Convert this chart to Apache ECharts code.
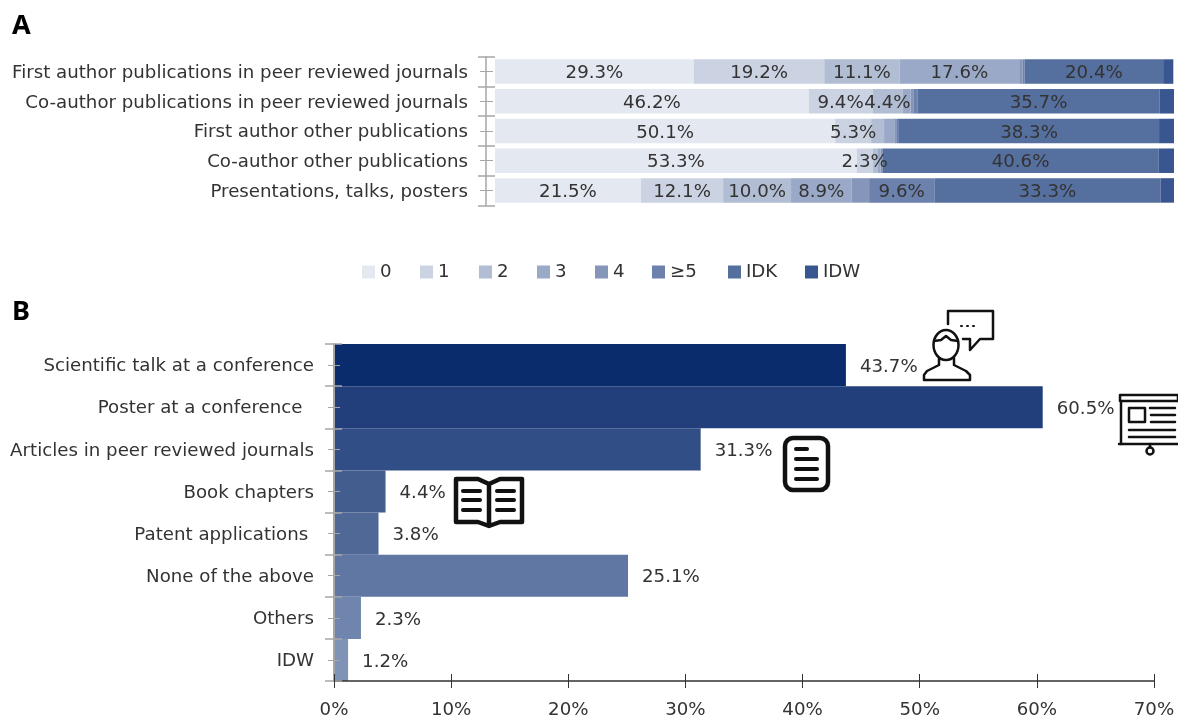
<!DOCTYPE html>
<html><head><meta charset="utf-8">
<style>html,body{margin:0;padding:0;background:#fff}#c{width:1178px;height:719px}</style>
<script src="https://cdn.jsdelivr.net/npm/echarts@6/dist/echarts.min.js"></script></head>
<body><div id="c"></div>
<script>
const rowsA=["First author publications in peer reviewed journals","Co-author publications in peer reviewed journals","First author other publications","Co-author other publications","Presentations, talks, posters"];
const seriesNames=["0","1","2","3","4","≥5","IDK","IDW"];
const s0=[29.3,46.2,50.1,53.3,21.5];
const s1=[19.2,9.4,5.3,2.3,12.1];
const s2=[11.1,4.4,1.9,0.8,10.0];
const s3=[17.6,1.2,1.5,0.4,8.9];
const s4=[0.5,0.4,0.4,0.2,2.6];
const s5=[0.3,0.6,0.3,0.1,9.6];
const sIDK=[20.4,35.7,38.3,40.6,33.3];
const sIDW=[1.5,2.1,2.2,2.3,2.0];
const colorsA=["#E4E8F0","#CBD3E2","#B1BDD3","#9AA9C7","#8596BA","#6C81AB","#556F9E","#3A5690"];
const legendLeft=[362,420,479,537,595,652,728,805];
const catsB=["Scientific talk at a conference","Poster at a conference  ","Articles in peer reviewed journals","Book chapters","Patent applications ","None of the above","Others","IDW"];
const valsB=[43.7,60.5,31.3,4.4,3.8,25.1,2.3,1.2];
const colorsB=["#0A2C6C","#223F7C","#324E86","#435D8F","#4F6896","#5F77A2","#6F85AD","#7F93B7"];

const FONT="DejaVu Sans", FS=18.2, TXT="#333";
const valuesA=[s0,s1,s2,s3,s4,s5,sIDK,sIDW];
const noLabel=new Set(["4","IDW"]);
const seriesA=seriesNames.map((n,i)=>({
  name:n,type:"bar",stack:"a",xAxisIndex:0,yAxisIndex:0,barWidth:24.5,
  itemStyle:{color:colorsA[i]},
  data:valuesA[i].map(v=>({value:v,label:{show:!noLabel.has(n)&&v>=2.3}})),
  label:{position:"inside",offset:[0,2],color:TXT,fontFamily:FONT,fontSize:FS,formatter:p=>p.value.toFixed(1)+"%"},
  animation:false
}));
const seriesB={type:"bar",xAxisIndex:1,yAxisIndex:3,barWidth:"100%",animation:false,
  data:valsB.map((v,i)=>({value:v,itemStyle:{color:colorsB[i]}})),
  label:{show:true,position:"right",distance:14,offset:[0,2],color:TXT,fontFamily:FONT,fontSize:FS,formatter:p=>p.value.toFixed(1)+"%"}};

const catAxis=(grid,data,o)=>Object.assign({type:"category",gridIndex:grid,data,inverse:true,position:"left",z:6,
  axisLine:{show:false},axisTick:{show:false},axisLabel:{show:false},splitLine:{show:false}},o);
const GR="#A6A6A6";
const ink="#111";
const catLabel=(margin)=>({show:true,margin,formatter:v=>"{t|"+v+"}",
  rich:{t:{color:TXT,fontFamily:FONT,fontSize:FS,padding:[3,0,0,0]}}});
const stroke=w=>({fill:null,stroke:ink,lineWidth:w,lineJoin:"round",lineCap:"round"});
const pl=(points,w)=>({type:"polyline",silent:true,shape:{points},style:stroke(w)});
const ln=(x1,y1,x2,y2,w)=>({type:"line",silent:true,shape:{x1,y1,x2,y2},style:stroke(w)});
const box=(x,y,width,height,r,w)=>({type:"rect",silent:true,shape:{x,y,width,height,r},style:stroke(w)});
const ell=(cx,cy,rx,ry,w)=>({type:"ellipse",silent:true,shape:{cx,cy,rx,ry},style:stroke(w)});
const ring=(cx,cy,r,w)=>({type:"circle",silent:true,shape:{cx,cy,r},style:stroke(w)});

const option={
  backgroundColor:"#fff",
  title:[
    {text:"A",left:12,top:13,padding:0,textStyle:{fontFamily:"Noto Sans",fontSize:27,fontWeight:"bold",color:"#000"}},
    {text:"B",left:12,top:299,padding:0,textStyle:{fontFamily:"Noto Sans",fontSize:27,fontWeight:"bold",color:"#000"}}
  ],
  legend:seriesNames.map((n,i)=>({data:[n],left:legendLeft[i],top:263,padding:0,itemWidth:13,itemHeight:13,itemGap:0,selectedMode:false,
    textStyle:{fontFamily:FONT,fontSize:FS,color:TXT},icon:"rect"})),
  grid:[
    {left:495,right:4,top:56.7,height:148.6},
    {left:334,width:820,top:344,height:338.5}
  ],
  xAxis:[
    {type:"value",gridIndex:0,min:0,max:100,show:false},
    {type:"value",gridIndex:1,min:0,max:70,interval:10,position:"bottom",z:6,
     axisLine:{show:true,lineStyle:{color:"#333",width:1.5}},axisTick:{show:true,inside:true,length:7,lineStyle:{color:"#333"}},
     axisLabel:{show:true,margin:20,color:TXT,fontFamily:FONT,fontSize:FS,formatter:v=>v+"%"},splitLine:{show:false}},
    {type:"value",gridIndex:1,min:0,max:70,interval:10,position:"bottom",z:6,
     axisLine:{show:false},axisTick:{show:true,length:7,lineStyle:{color:"#333"}},axisLabel:{show:false},splitLine:{show:false}}
  ],
  yAxis:[
    catAxis(0,rowsA,{axisTick:{show:true,length:17,lineStyle:{color:GR,width:1.5}},axisLabel:catLabel(27)}),
    catAxis(0,rowsA,{offset:9,axisLine:{show:true,lineStyle:{color:GR,width:1.5}}}),
    catAxis(0,rowsA,{offset:2,axisTick:{show:true,length:13,alignWithLabel:true,lineStyle:{color:GR}}}),
    catAxis(1,catsB,{offset:-8,axisTick:{show:true,length:17,lineStyle:{color:GR,width:1.5}},axisLabel:catLabel(28)}),
    catAxis(1,catsB,{offset:0,axisLine:{show:true,lineStyle:{color:GR,width:2}}}),
    catAxis(1,catsB,{offset:-6,axisTick:{show:true,length:12,alignWithLabel:true,lineStyle:{color:GR}}})
  ],
  series:[...seriesA,seriesB],
  graphic:[
    // speaker icon
    pl([[948,324],[948,311],[993,311],[993,339],[980,339],[970,350],[970,339],[963,339]],2.5),
    ell(946,345,12.5,15,2.5),
    pl([[934,341],[941,340],[946,336],[951,340],[958,341]],2.5),
    pl([[939,358],[939,365],[927,371],[924,375],[924,380],[970,380],[970,375],[966,371],[954,365],[954,358]],2.5),
    ln(961,326,962,326,2),ln(967,326,968,326,2),ln(973,326,974,326,2),
    // board icon
    box(1120,395,58,6,0,2.5),
    pl([[1121,401],[1121,444]],2.5),
    ln(1119,444,1178,444,2.5),ln(1150,444,1150,447,2.5),ring(1150,451,3.5,2.5),
    box(1129,408,16,14,0,2.5),
    ln(1150,408,1175,408,2.5),ln(1151,415,1175,415,2.5),ln(1151,422,1175,422,2.5),
    ln(1129,430,1175,430,2.5),ln(1129,437,1175,437,2.5),
    // document icon
    box(785,438,43,52,8,4.5),
    ln(796,449,807,449,4),ln(796,459,817,459,4),ln(796,469,817,469,4),ln(796,479,817,479,4),
    // book icon
    pl([[489,484],[478,479],[456,479],[456,522],[478,522],[489,526],[500,522],[522,522],[522,479],[500,479],[489,484],[489,526]],4.5),
    ln(463,491,480,491,4),ln(463,500,480,500,4),ln(463,510,480,510,4),
    ln(497,491,514,491,4),ln(497,500,514,500,4),ln(497,510,514,510,4)
  ]
};
const chart=echarts.init(document.getElementById("c"),null,{renderer:"canvas"});
chart.setOption(option);
</script></body></html>
